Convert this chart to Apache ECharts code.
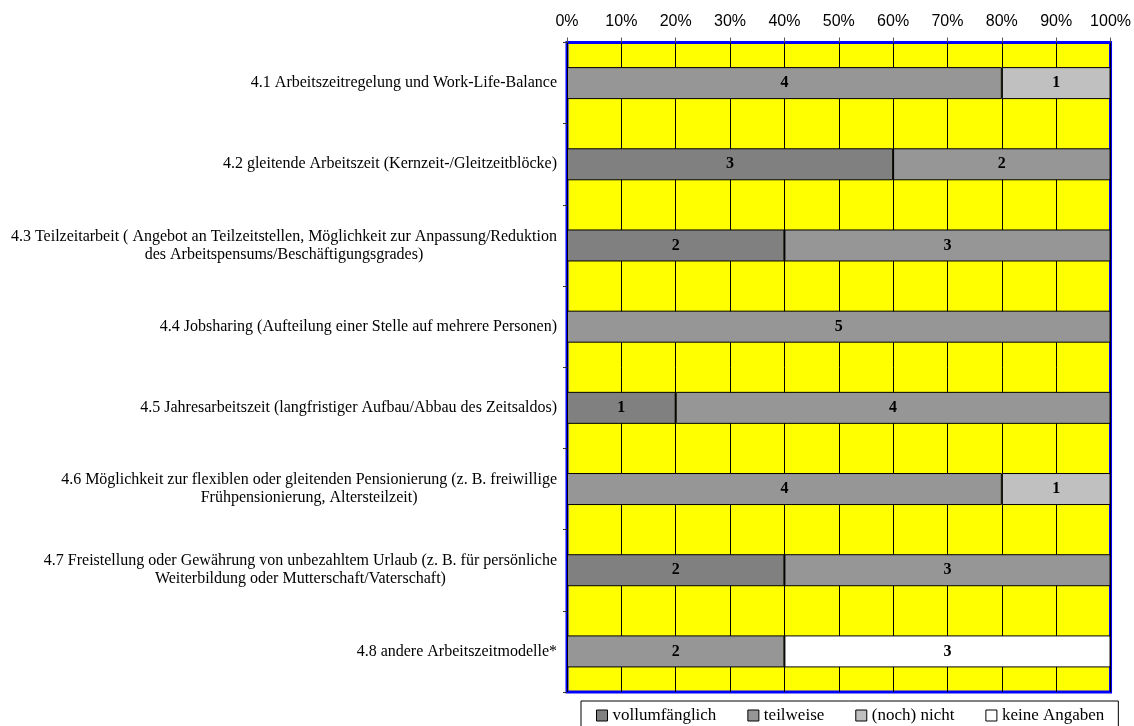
<!DOCTYPE html>
<html>
<head>
<meta charset="utf-8">
<style>
  html, body { margin: 0; padding: 0; background: #fff; }
  #chart { width: 1134px; height: 726px; }
</style>
<script src="https://cdn.jsdelivr.net/npm/echarts@6/dist/echarts.min.js"></script>
</head>
<body>
<div id="chart"></div>
<script>
// Arbeitszeitmodelle: number of answers per measure and status
const categories = [
  '4.1 Arbeitszeitregelung und Work-Life-Balance',
  '4.2 gleitende Arbeitszeit (Kernzeit-/Gleitzeitblöcke)',
  '4.3 Teilzeitarbeit ( Angebot an Teilzeitstellen, Möglichkeit zur Anpassung/Reduktion\ndes Arbeitspensums/Beschäftigungsgrades)',
  '4.4 Jobsharing (Aufteilung einer Stelle auf mehrere Personen)',
  '4.5 Jahresarbeitszeit (langfristiger Aufbau/Abbau des Zeitsaldos)',
  '4.6 Möglichkeit zur flexiblen oder gleitenden Pensionierung (z. B. freiwillige\nFrühpensionierung, Altersteilzeit)',
  '4.7 Freistellung oder Gewährung von unbezahltem Urlaub (z. B. für persönliche\nWeiterbildung oder Mutterschaft/Vaterschaft)',
  '4.8 andere Arbeitszeitmodelle*'
];

const seriesNames = ['vollumfänglich', 'teilweise', '(noch) nicht', 'keine Angaben'];

const vollumfaenglich = [0, 3, 2, 0, 1, 0, 2, 0];
const teilweise       = [4, 2, 3, 5, 4, 4, 3, 2];
const nochNicht       = [1, 0, 0, 0, 0, 1, 0, 0];
const keineAngaben    = [0, 0, 0, 0, 0, 0, 0, 3];

const xTickValues = [0, 10, 20, 30, 40, 50, 60, 70, 80, 90, 100];

const counts = [vollumfaenglich, teilweise, nochNicht, keineAngaben];
const colors = ['#808080', '#969696', '#C0C0C0', '#FFFFFF'];

// row totals, used to turn counts into shares of 100 %
const totals = categories.map((_, i) => counts.reduce((s, arr) => s + arr[i], 0));

const serif = "'Liberation Serif', 'Times New Roman', serif";
const sans = "'Liberation Sans', Arial, sans-serif";

const series = counts.map((arr, si) => ({
  name: seriesNames[si],
  type: 'bar',
  stack: 'total',
  barWidth: 32,
  itemStyle: { color: colors[si], borderColor: '#000', borderWidth: 1 },
  label: {
    show: true,
    position: 'inside',
    fontFamily: serif,
    fontWeight: 'bold',
    fontSize: 16,
    color: '#000',
    formatter: p => String(p.data.count)
  },
  data: arr.map((c, i) => c === 0 ? '-' : { value: c / totals[i] * 100, count: c })
}));

const chart = echarts.init(document.getElementById('chart'), null, { renderer: 'canvas' });

chart.setOption({
  animation: false,
  backgroundColor: '#fff',
  grid: {
    left: 567,
    right: 22.5,
    top: 42.5,
    bottom: 34,
    show: true,
    backgroundColor: '#FFFF00',
    borderColor: '#0000FF',
    borderWidth: 3
  },
  xAxis: {
    type: 'value',
    position: 'top',
    min: xTickValues[0],
    max: xTickValues[xTickValues.length - 1],
    interval: xTickValues[1] - xTickValues[0],
    axisLine: { show: false },
    axisTick: { show: true, length: 5, lineStyle: { color: '#555', width: 1 } },
    axisLabel: {
      formatter: '{value}%',
      fontFamily: sans,
      fontSize: 16,
      color: '#000',
      margin: 13
    },
    splitLine: { show: true, lineStyle: { color: '#000', width: 1 } }
  },
  yAxis: {
    type: 'category',
    data: categories,
    inverse: true,
    axisLine: { show: false },
    axisTick: { show: true, length: 4, lineStyle: { color: '#333', width: 1 } },
    splitLine: { show: false },
    axisLabel: {
      margin: 10,
      formatter: v => '{c|' + v + '}',
      rich: {
        c: {
          align: 'center',
          fontFamily: serif,
          fontSize: 16,
          lineHeight: 18,
          color: '#000'
        }
      }
    }
  },
  legend: {
    data: seriesNames,
    left: 581,
    top: 701,
    orient: 'horizontal',
    padding: [6, 14, 6, 15],
    borderColor: '#000',
    borderWidth: 1,
    backgroundColor: '#fff',
    icon: 'rect',
    itemWidth: 11,
    itemHeight: 11,
    itemGap: 31,
    itemStyle: { borderColor: '#000', borderWidth: 1 },
    textStyle: { fontFamily: serif, fontSize: 17, color: '#000' }
  },
  series: series
});
</script>
</body>
</html>
